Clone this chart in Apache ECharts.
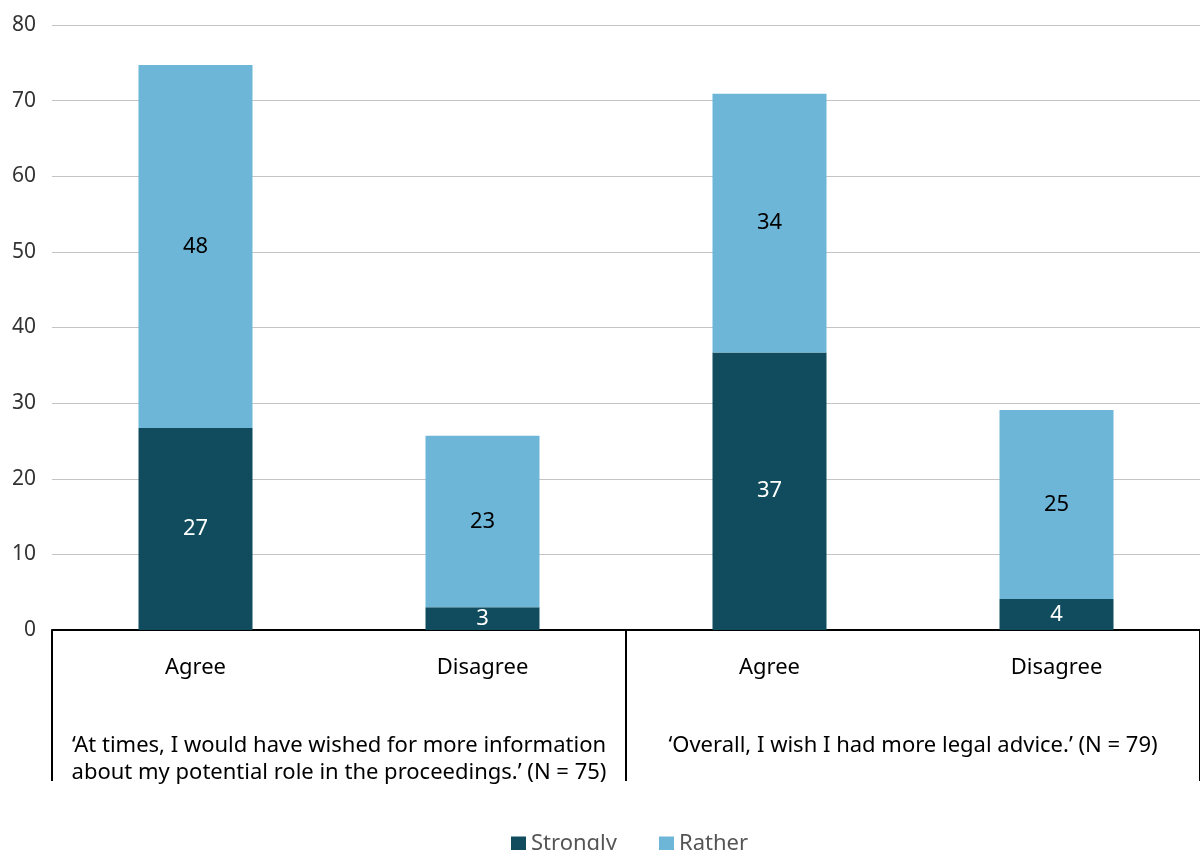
<!DOCTYPE html>
<html>
<head>
<meta charset="utf-8">
<script src="https://cdn.jsdelivr.net/npm/echarts@6/dist/echarts.min.js"></script>
<style>html,body{margin:0;padding:0;background:#fff}#c{width:1200px;height:850px}</style>
</head>
<body>
<div id="c"></div>
<script>
const categories = ['Agree', 'Disagree', 'Agree', 'Disagree'];
const groups = [
  '\u2018At times, I would have wished for more information\nabout my potential role in the proceedings.\u2019 (N = 75)',
  '\u2018Overall, I wish I had more legal advice.\u2019 (N = 79)'
];
const strongly = [26.7, 3.0, 36.7, 4.1];
const rather = [48.0, 22.7, 34.2, 25.0];
const seriesNames = ['Strongly', 'Rather'];

const FONT = '"Noto Sans", "Open Sans", sans-serif';
const chart = echarts.init(document.getElementById('c'));
chart.setOption({
  animation: false,
  textStyle: { fontFamily: FONT },
  grid: { left: 52, right: 0, top: 25, bottom: 220 },
  legend: {
    data: seriesNames,
    left: 506, top: 828,
    itemWidth: 15, itemHeight: 15, itemGap: 42,
    icon: 'rect',
    textStyle: { fontSize: 22, color: '#555', fontFamily: FONT }
  },
  xAxis: [
    {
      type: 'category', data: categories, position: 'bottom',
      axisLine: { lineStyle: { color: '#000', width: 2 } },
      axisTick: { show: false },
      axisLabel: { fontSize: 22, color: '#000', margin: 27, fontFamily: FONT }
    },
    {
      type: 'category', data: groups, position: 'bottom',
      axisLine: { show: false },
      axisTick: { show: true, length: 151, interval: 0, alignWithLabel: false, lineStyle: { color: '#000', width: 2 } },
      axisLabel: { fontSize: 22, color: '#000', margin: 102, lineHeight: 27, interval: 0, fontFamily: FONT }
    }
  ],
  yAxis: {
    type: 'value', min: 0, max: 80, interval: 10,
    axisLine: { show: false }, axisTick: { show: false },
    axisLabel: { fontSize: 21, color: '#333', margin: 16, fontFamily: FONT },
    splitLine: { lineStyle: { color: '#c4c4c4', width: 1 } }
  },
  series: [
    {
      name: seriesNames[0], type: 'bar', stack: 's', data: strongly, barWidth: 114,
      itemStyle: { color: '#114c5e' },
      label: { show: true, position: 'inside', color: '#fff', fontSize: 22, fontFamily: FONT,
        formatter: p => Math.round(p.value) }
    },
    {
      name: seriesNames[1], type: 'bar', stack: 's', data: rather, barWidth: 114,
      itemStyle: { color: '#6db6d8' },
      label: { show: true, position: 'inside', color: '#000', fontSize: 22, fontFamily: FONT,
        formatter: p => Math.round(p.value) }
    }
  ]
});
</script>
</body>
</html>
